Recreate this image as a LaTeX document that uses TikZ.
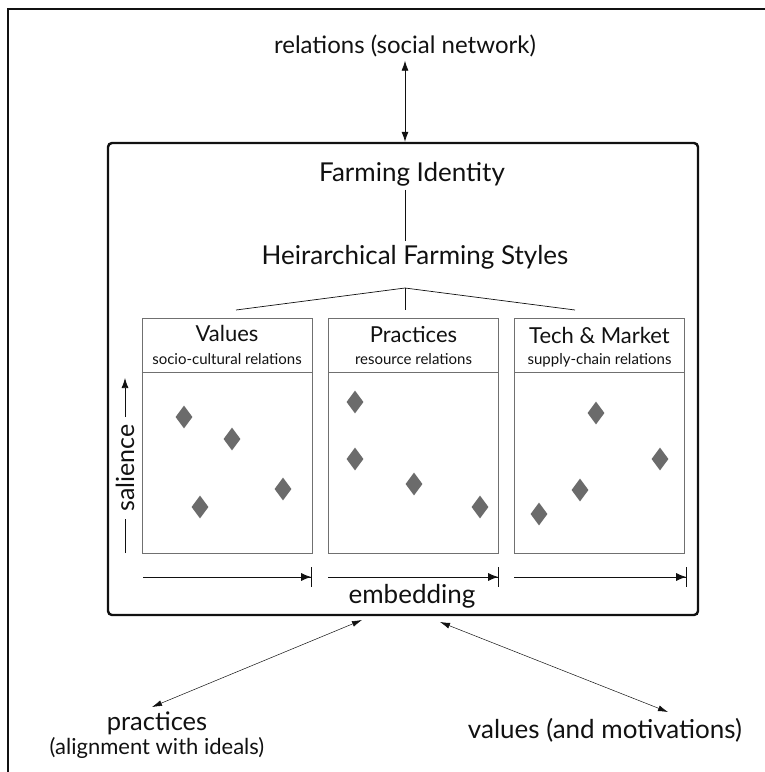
\documentclass[tikz,border=0pt]{standalone}
\usepackage{fontspec}
\setmainfont{Lato}
\usetikzlibrary{arrows.meta,positioning,shapes.geometric}
\definecolor{ink}{HTML}{111111}
\definecolor{rule}{HTML}{707070}
\definecolor{stone}{HTML}{6B6B6B}
\tikzset{
  frame/.style={draw=ink, line width=2.4pt, rounded corners=4pt,
    minimum width=590pt, minimum height=472pt, inner sep=0pt},
  panel/.style={draw=rule, line width=.9pt, minimum width=170pt,
    minimum height=235pt, inner sep=0pt},
  big/.style={font=\fontsize{24}{24}\selectfont, text=ink, inner sep=0pt},
  bigger/.style={big, font=\fontsize{26}{26}\selectfont},
  head/.style={font=\fontsize{22}{24}\selectfont, text=ink, inner sep=0pt},
  sub/.style={font=\fontsize{15}{18}\selectfont, text=ink, inner sep=0pt},
  gem/.style={diamond, fill=stone, inner sep=0pt, minimum width=17pt,
    minimum height=23pt},
  twoway/.style={{Latex[length=10pt,width=7pt]}-{Latex[length=10pt,width=7pt]},
    line width=.8pt, draw=ink},
  thinway/.style={{Latex[length=10pt,width=6pt]}-{Latex[length=10pt,width=6pt]},
    line width=.5pt, draw=ink},
  axis/.style={-{Latex[length=10pt,width=8pt]Bar[width=20pt,line width=.8pt]},
    line width=.8pt, draw=ink},
  twig/.style={line width=.7pt, draw=ink}
}

\begin{document}
\begin{tikzpicture}[x=1pt,y=-1pt]
  \useasboundingbox (0,0) rectangle (765,772);
  % outer frame, cut off at right and bottom
  \draw[line width=2.2pt, draw=ink] (8,772) -- (8,9) -- (765,9);

  \node[big,anchor=base] (rel) at (405,53) {relations (social network)};
  \node[frame] (core) at (403,379) {};
  \draw[twoway, shorten <=4pt] (rel.south) -- (rel.south |- core.north);

  \node[bigger,anchor=base] (ident) at (412,181) {Farming Identity};
  \node[bigger,anchor=base] (styles) at (415,264) {Heirarchical Farming Styles};
  \coordinate (hub) at (405,288);
  \draw[twig, shorten <=4pt, shorten >=4pt] (ident.south -| hub) -- (styles.north -| hub);

  % three style panels
  \node[panel] (vals) at (227,435.5) {};
  \node[panel] (prac) at (413.5,435.5) {};
  \node[panel] (tech) at (599.5,435.5) {};
  \foreach \p in {vals,prac,tech}
    \draw[draw=rule, line width=.9pt] ([yshift=-55pt]\p.north west) -- ([yshift=-55pt]\p.north east);

  \coordinate (bv) at (236,310);
  \coordinate (bp) at (405,310);
  \coordinate (bt) at (575,310);
  \draw[twig] (hub) -- (bv);
  \draw[twig] (hub) -- (bp);
  \draw[twig] (hub) -- (bt);

  \node[head,anchor=base] (valsT) at (227,341) {Values};
  \node[sub,anchor=base] (valsS) at (227,364) {socio-cultural relations};
  \node[head,anchor=base] (pracT) at (413.5,342) {Practices};
  \node[sub,anchor=base] (pracS) at (413.5,364) {resource relations};
  \node[head,anchor=base] (techT) at (599.5,343) {Tech \& Market};
  \node[sub,anchor=base] (techS) at (599.5,364) {supply-chain relations};

  \foreach \x/\y [count=\i] in {184/417,232/439,200/507,283/489,
      355/402,355/459,414/484,480/507,
      596/413,660/459,580/490,539/514}
    \node[gem] (g\i) at (\x,\y) {};

  % salience axis
  \node[big,font=\fontsize{25}{25}\selectfont,rotate=90] (sal) at (125,468) {salience};
  \coordinate (salb) at (125,553);
  \coordinate (salt) at (125,378);
  \draw[twig, shorten >=7pt] (salb) -- (sal.west);
  \draw[twig, -{Latex[length=10pt,width=7pt]}, shorten <=7pt] (sal.east) -- (salt);

  % embedding axes
  \foreach \a/\b [count=\i] in {143/312,328/499,514/687} {
    \coordinate (e\i a) at (\a,577);
    \coordinate (e\i b) at (\b,577);
    \draw[axis] (e\i a) -- (e\i b);
  }
  \node[bigger,anchor=base] (emb) at (412,603) {embedding};

  % outside links
  \node[big,align=center] (pract) at (157,735)
    {{\fontsize{25.5}{23}\selectfont practices}\\{\fontsize{22}{23}\selectfont(alignment with ideals)}};
  \node[bigger,anchor=base] (motiv) at (605,738) {values (and motivations)};
  \coordinate (cl) at (362,620);
  \coordinate (cr) at (440,622);
  \coordinate (pl) at (152,707);
  \coordinate (pr) at (668,712);
  \draw[thinway] (cl) -- (pl);
  \draw[thinway] (cr) -- (pr);
\end{tikzpicture}
\end{document}
